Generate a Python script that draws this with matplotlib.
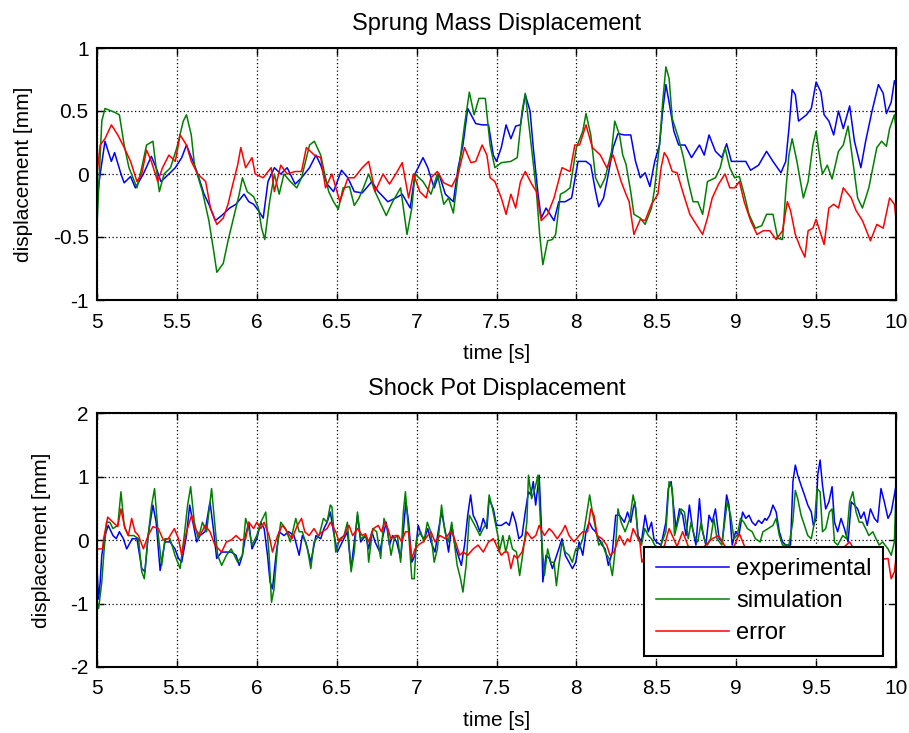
import matplotlib
matplotlib.use("Agg")
import matplotlib.pyplot as plt

plt.rcParams['font.family'] = ['Liberation Sans', 'DejaVu Sans']
plt.rcParams['axes.unicode_minus'] = False

# ---------------- Sprung Mass Displacement ----------------
t_sm_exp = [5.00, 5.02, 5.05, 5.09, 5.11, 5.15, 5.17, 5.21, 5.24, 5.29, 5.34, 5.37, 5.40, 5.45, 5.49, 5.53,
            5.56, 5.61, 5.63, 5.67, 5.70, 5.74, 5.78, 5.83, 5.87, 5.92, 5.95, 5.98, 6.01, 6.04, 6.07, 6.11,
            6.15, 6.19, 6.24, 6.28, 6.33, 6.37, 6.40, 6.44, 6.48, 6.53, 6.57, 6.61, 6.66, 6.72, 6.76, 6.82,
            6.87, 6.91, 6.96, 6.99, 7.04, 7.07, 7.11, 7.14, 7.18, 7.23, 7.26, 7.29, 7.32, 7.37, 7.41, 7.45,
            7.48, 7.50, 7.53, 7.56, 7.59, 7.62, 7.65, 7.68, 7.71, 7.73, 7.76, 7.78, 7.81, 7.86, 7.89, 7.93,
            7.97, 8.01, 8.06, 8.09, 8.12, 8.14, 8.17, 8.20, 8.23, 8.26, 8.30, 8.34, 8.37, 8.40, 8.43, 8.46,
            8.49, 8.52, 8.54, 8.56, 8.58, 8.61, 8.64, 8.68, 8.72, 8.77, 8.80, 8.83, 8.87, 8.91, 8.94, 8.97,
            9.01, 9.06, 9.09, 9.14, 9.19, 9.23, 9.28, 9.31, 9.33, 9.35, 9.37, 9.39, 9.44, 9.47, 9.50, 9.53,
            9.55, 9.58, 9.61, 9.64, 9.67, 9.71, 9.74, 9.78, 9.81, 9.85, 9.89, 9.92, 9.94, 9.97, 9.99, 10.00]
y_sm_exp = [-0.20, 0.00, 0.26, 0.10, 0.17, 0.00, -0.07, -0.02, -0.11, 0.00, 0.14, 0.05, -0.06, 0.00, 0.05, 0.13,
            0.23, 0.07, 0.00, -0.16, -0.24, -0.37, -0.33, -0.27, -0.24, -0.16, -0.22, -0.24, -0.29, -0.35, -0.06, 0.05,
            0.00, 0.05, -0.08, -0.03, 0.05, 0.15, 0.07, -0.08, -0.14, 0.03, -0.03, -0.14, -0.15, -0.06, -0.14, -0.22,
            -0.19, -0.16, -0.27, 0.00, 0.13, 0.05, -0.11, 0.00, -0.16, -0.22, 0.05, 0.23, 0.52, 0.40, 0.39, 0.39,
            0.15, 0.10, 0.21, 0.39, 0.28, 0.38, 0.39, 0.63, 0.50, 0.21, -0.16, -0.35, -0.27, -0.37, -0.22, -0.22,
            -0.19, 0.10, 0.10, 0.07, -0.14, -0.26, -0.19, 0.00, 0.21, 0.32, 0.31, 0.31, 0.10, -0.03, 0.01, -0.10,
            0.10, 0.23, 0.50, 0.71, 0.57, 0.34, 0.23, 0.23, 0.13, 0.23, 0.15, 0.31, 0.18, 0.13, 0.24, 0.10,
            0.10, 0.10, 0.03, 0.07, 0.18, 0.10, 0.01, 0.10, 0.36, 0.67, 0.63, 0.42, 0.47, 0.52, 0.73, 0.65,
            0.47, 0.42, 0.31, 0.50, 0.36, 0.54, 0.26, 0.05, 0.26, 0.50, 0.71, 0.64, 0.48, 0.57, 0.74, 0.71]

t_sm_sim = [5.00, 5.03, 5.05, 5.11, 5.14, 5.17, 5.20, 5.25, 5.28, 5.31, 5.35, 5.37, 5.39, 5.42, 5.46, 5.50,
            5.54, 5.56, 5.59, 5.61, 5.66, 5.70, 5.73, 5.75, 5.79, 5.82, 5.85, 5.89, 5.91, 5.94, 5.98, 6.01,
            6.03, 6.05, 6.08, 6.11, 6.14, 6.17, 6.21, 6.25, 6.28, 6.33, 6.36, 6.40, 6.43, 6.45, 6.48, 6.51,
            6.54, 6.58, 6.61, 6.64, 6.67, 6.70, 6.74, 6.81, 6.85, 6.90, 6.94, 6.97, 6.99, 7.04, 7.09, 7.13,
            7.17, 7.20, 7.23, 7.26, 7.30, 7.33, 7.36, 7.39, 7.43, 7.46, 7.49, 7.53, 7.59, 7.63, 7.66, 7.68,
            7.71, 7.75, 7.77, 7.79, 7.82, 7.85, 7.87, 7.90, 7.93, 7.96, 8.00, 8.04, 8.06, 8.09, 8.12, 8.15,
            8.18, 8.22, 8.24, 8.27, 8.29, 8.31, 8.34, 8.36, 8.40, 8.43, 8.47, 8.49, 8.52, 8.54, 8.56, 8.58,
            8.60, 8.64, 8.67, 8.70, 8.73, 8.76, 8.79, 8.82, 8.87, 8.90, 8.93, 8.96, 8.99, 9.02, 9.05, 9.08,
            9.12, 9.16, 9.19, 9.23, 9.26, 9.29, 9.31, 9.33, 9.35, 9.38, 9.42, 9.45, 9.48, 9.50, 9.53, 9.54,
            9.57, 9.60, 9.64, 9.67, 9.70, 9.73, 9.76, 9.79, 9.83, 9.88, 9.91, 9.94, 9.96, 9.99, 10.00]
y_sm_sim = [-0.41, 0.42, 0.52, 0.49, 0.47, 0.23, 0.05, -0.11, 0.05, 0.23, 0.26, 0.05, -0.14, 0.00, 0.05, 0.21,
            0.42, 0.47, 0.31, 0.07, -0.14, -0.37, -0.61, -0.78, -0.71, -0.53, -0.37, -0.16, -0.03, -0.14, -0.18, -0.27,
            -0.43, -0.52, -0.22, 0.00, -0.16, 0.00, -0.06, -0.11, -0.03, 0.23, 0.26, 0.15, -0.03, -0.14, -0.22, -0.28,
            -0.11, -0.10, -0.25, -0.19, -0.10, 0.00, -0.14, -0.33, -0.22, -0.11, -0.48, -0.27, 0.00, -0.06, -0.16, 0.00,
            -0.24, -0.19, -0.31, 0.00, 0.39, 0.65, 0.47, 0.60, 0.60, 0.23, 0.05, 0.09, 0.10, 0.13, 0.50, 0.64,
            0.31, -0.14, -0.48, -0.72, -0.53, -0.52, -0.48, -0.16, -0.14, -0.11, 0.21, 0.34, 0.48, 0.31, -0.03, -0.11,
            -0.03, 0.18, 0.42, 0.31, 0.15, 0.08, -0.14, -0.32, -0.35, -0.40, -0.27, -0.11, 0.23, 0.57, 0.85, 0.76,
            0.44, 0.28, 0.13, -0.06, -0.22, -0.22, -0.32, -0.06, -0.03, 0.05, 0.21, 0.05, -0.03, -0.02, -0.16, -0.32,
            -0.43, -0.41, -0.32, -0.32, -0.51, -0.52, -0.14, 0.15, 0.28, 0.10, -0.19, -0.06, 0.23, 0.34, 0.07, 0.00,
            0.07, -0.04, 0.18, 0.23, 0.38, 0.10, -0.19, -0.27, -0.11, 0.21, 0.26, 0.22, 0.36, 0.47, 0.36]

t_sm_err = [5.00, 5.02, 5.05, 5.09, 5.13, 5.17, 5.21, 5.25, 5.28, 5.31, 5.34, 5.38, 5.41, 5.45, 5.49, 5.52,
            5.56, 5.59, 5.63, 5.68, 5.71, 5.75, 5.79, 5.82, 5.85, 5.88, 5.90, 5.93, 5.97, 5.99, 6.04, 6.09,
            6.11, 6.15, 6.19, 6.24, 6.28, 6.31, 6.36, 6.40, 6.43, 6.47, 6.52, 6.57, 6.61, 6.66, 6.70, 6.74,
            6.79, 6.83, 6.87, 6.91, 6.95, 6.98, 7.02, 7.06, 7.09, 7.13, 7.17, 7.22, 7.26, 7.30, 7.34, 7.37,
            7.41, 7.44, 7.46, 7.49, 7.53, 7.56, 7.59, 7.62, 7.65, 7.68, 7.72, 7.75, 7.78, 7.82, 7.86, 7.91,
            7.96, 7.99, 8.02, 8.06, 8.10, 8.15, 8.19, 8.23, 8.28, 8.31, 8.33, 8.36, 8.40, 8.43, 8.47, 8.51,
            8.53, 8.55, 8.57, 8.60, 8.63, 8.67, 8.71, 8.75, 8.79, 8.82, 8.85, 8.89, 8.93, 8.96, 8.99, 9.02,
            9.05, 9.09, 9.13, 9.17, 9.21, 9.25, 9.29, 9.32, 9.34, 9.37, 9.40, 9.43, 9.45, 9.48, 9.50, 9.53,
            9.55, 9.58, 9.61, 9.64, 9.67, 9.72, 9.75, 9.79, 9.84, 9.88, 9.92, 9.96, 9.99, 10.00]
y_sm_err = [0.00, 0.23, 0.28, 0.39, 0.31, 0.21, 0.10, -0.06, 0.00, 0.19, 0.10, -0.06, 0.05, 0.15, 0.10, 0.31,
            0.23, 0.10, 0.00, -0.06, -0.27, -0.40, -0.35, -0.24, -0.08, 0.07, 0.21, 0.05, 0.13, 0.00, -0.03, 0.05,
            -0.14, 0.07, 0.00, 0.02, 0.02, 0.21, 0.15, 0.13, -0.11, 0.00, -0.22, -0.03, -0.03, 0.05, 0.10, -0.14,
            0.00, -0.08, 0.00, 0.09, -0.19, 0.00, -0.14, -0.19, -0.03, 0.02, -0.07, -0.10, 0.00, 0.21, 0.09, 0.10,
            0.23, 0.15, -0.03, -0.06, -0.19, -0.32, -0.16, -0.27, -0.06, 0.02, -0.08, -0.14, -0.37, -0.32, -0.19, 0.05,
            0.02, 0.23, 0.23, 0.39, 0.21, 0.15, 0.05, 0.15, -0.06, -0.16, -0.22, -0.48, -0.36, -0.37, -0.24, -0.16,
            0.05, 0.17, 0.13, 0.02, 0.01, -0.16, -0.32, -0.40, -0.48, -0.35, -0.19, -0.08, 0.00, -0.11, -0.11, -0.06,
            -0.22, -0.37, -0.48, -0.45, -0.45, -0.52, -0.45, -0.22, -0.29, -0.48, -0.58, -0.66, -0.45, -0.43, -0.36, -0.48,
            -0.56, -0.27, -0.24, -0.27, -0.11, -0.19, -0.29, -0.37, -0.53, -0.40, -0.43, -0.19, -0.24, -0.35]

# ---------------- Shock Pot Displacement ----------------
t_sp_exp = [5.00, 5.01, 5.02, 5.03, 5.05, 5.07, 5.10, 5.12, 5.14, 5.165, 5.186, 5.22, 5.25, 5.28, 5.30, 5.32,
            5.35, 5.37, 5.395, 5.425, 5.457, 5.488, 5.51, 5.53, 5.56, 5.58, 5.60, 5.624, 5.645, 5.676, 5.707, 5.728,
            5.749, 5.78, 5.81, 5.84, 5.87, 5.89, 5.91, 5.93, 5.95, 5.97, 6.00, 6.025, 6.046, 6.067, 6.083, 6.098,
            6.12, 6.14, 6.17, 6.20, 6.233, 6.265, 6.285, 6.306, 6.338, 6.37, 6.40, 6.42, 6.44, 6.46, 6.48, 6.504,
            6.535, 6.567, 6.59, 6.61, 6.63, 6.65, 6.68, 6.70, 6.72, 6.74, 6.77, 6.79, 6.81, 6.83, 6.85, 6.875,
            6.90, 6.92, 6.933, 6.95, 6.97, 6.99, 7.01, 7.03, 7.05, 7.07, 7.09, 7.115, 7.135, 7.156, 7.18, 7.20,
            7.22, 7.24, 7.26, 7.28, 7.30, 7.32, 7.338, 7.354, 7.375, 7.396, 7.417, 7.44, 7.454, 7.48, 7.50, 7.53,
            7.56, 7.58, 7.60, 7.62, 7.64, 7.66, 7.68, 7.70, 7.715, 7.73, 7.745, 7.767, 7.78, 7.79, 7.81, 7.83,
            7.85, 7.87, 7.89, 7.91, 7.93, 7.954, 7.975, 7.996, 8.017, 8.04, 8.06, 8.08, 8.10, 8.12, 8.14, 8.16,
            8.18, 8.20, 8.225, 8.246, 8.27, 8.30, 8.32, 8.34, 8.355, 8.366, 8.386, 8.407, 8.43, 8.45, 8.47, 8.485,
            8.50, 8.53, 8.56, 8.575, 8.593, 8.607, 8.624, 8.645, 8.665, 8.686, 8.707, 8.727, 8.748, 8.77, 8.785, 8.81,
            8.83, 8.85, 8.87, 8.893, 8.913, 8.94, 8.955, 8.975, 8.996, 9.017, 9.04, 9.06, 9.08, 9.10, 9.12, 9.14,
            9.16, 9.18, 9.19, 9.21, 9.23, 9.25, 9.27, 9.29, 9.31, 9.34, 9.355, 9.37, 9.385, 9.406, 9.427, 9.448,
            9.47, 9.483, 9.50, 9.51, 9.525, 9.54, 9.56, 9.58, 9.60, 9.615, 9.635, 9.656, 9.677, 9.70, 9.72, 9.74,
            9.76, 9.78, 9.80, 9.82, 9.84, 9.865, 9.885, 9.906, 9.927, 9.95, 9.97, 9.99, 10.00]
y_sp_exp = [-0.45, -0.93, -0.66, -0.24, 0.07, 0.23, 0.07, 0.02, 0.13, 0.02, -0.14, 0.02, 0.02, -0.45, -0.50, 0.07,
            0.55, 0.28, -0.48, -0.03, -0.03, -0.14, -0.29, -0.35, 0.07, 0.55, 0.28, -0.03, 0.07, 0.13, 0.60, 0.18,
            -0.29, -0.19, -0.19, -0.19, -0.24, -0.40, -0.24, 0.07, 0.28, -0.14, 0.02, 0.28, 0.18, -0.24, -0.66, -0.77,
            -0.24, 0.13, 0.07, 0.13, 0.07, -0.24, 0.07, -0.03, -0.35, 0.07, 0.02, 0.18, 0.28, 0.44, 0.13, -0.19,
            -0.03, 0.13, -0.45, -0.03, 0.39, -0.03, 0.07, -0.14, 0.13, -0.03, -0.19, 0.07, 0.28, -0.08, 0.07, -0.03,
            -0.29, 0.23, 0.60, 0.28, -0.35, -0.24, 0.23, 0.07, 0.02, 0.18, -0.03, -0.19, 0.13, 0.44, 0.13, -0.19,
            0.23, -0.08, -0.24, -0.40, -0.08, 0.39, 0.71, 0.39, 0.28, 0.13, 0.34, 0.18, 0.65, 0.49, 0.23, 0.23,
            0.28, 0.23, 0.44, 0.28, 0.02, 0.07, 0.44, 0.76, 0.71, 0.92, 0.55, 1.02, 0.28, -0.66, -0.24, -0.29,
            -0.45, -0.29, -0.14, 0.02, -0.24, -0.35, -0.45, -0.35, -0.03, -0.24, 0.13, 0.28, 0.18, 0.13, 0.02, -0.08,
            -0.14, -0.40, -0.19, 0.39, 0.39, 0.28, 0.44, 0.28, 0.49, 0.60, 0.07, -0.03, 0.39, 0.13, 0.28, 0.02,
            -0.03, -0.08, 0.28, 0.81, 0.92, 0.55, 0.18, 0.49, 0.39, 0.07, 0.55, 0.18, -0.08, 0.65, 0.18, -0.08,
            0.39, 0.28, 0.49, 0.02, -0.03, 0.71, 0.55, -0.08, 0.13, 0.07, 0.44, 0.34, 0.39, 0.28, 0.23, 0.31,
            0.26, 0.34, 0.31, 0.39, 0.55, 0.44, 0.13, -0.03, -0.08, -0.08, 0.92, 1.18, 1.02, 0.86, 0.71, 0.55,
            0.44, 0.23, 0.34, 1.02, 1.26, 0.86, 0.49, 0.60, 0.84, 0.28, 0.13, 0.34, 0.18, -0.03, 0.60, 0.55,
            0.49, 0.34, 0.44, 0.23, 0.49, 0.34, 0.28, 0.81, 0.60, 0.34, 0.44, 0.71, 0.86]

t_sp_sim = [5.00, 5.01, 5.03, 5.045, 5.06, 5.08, 5.10, 5.13, 5.15, 5.17, 5.196, 5.23, 5.26, 5.28, 5.296, 5.32,
            5.342, 5.36, 5.384, 5.405, 5.425, 5.457, 5.488, 5.52, 5.546, 5.567, 5.586, 5.609, 5.634, 5.66, 5.686, 5.717,
            5.734, 5.755, 5.78, 5.81, 5.84, 5.88, 5.91, 5.93, 5.95, 5.97, 6.00, 6.025, 6.056, 6.077, 6.092, 6.108,
            6.13, 6.15, 6.18, 6.21, 6.244, 6.265, 6.285, 6.317, 6.338, 6.358, 6.39, 6.417, 6.44, 6.46, 6.47, 6.494,
            6.52, 6.546, 6.567, 6.59, 6.61, 6.63, 6.65, 6.68, 6.69, 6.70, 6.725, 6.75, 6.775, 6.796, 6.817, 6.84,
            6.86, 6.88, 6.90, 6.917, 6.93, 6.95, 6.97, 6.985, 7.00, 7.025, 7.046, 7.067, 7.088, 7.11, 7.13, 7.156,
            7.177, 7.198, 7.22, 7.233, 7.254, 7.275, 7.29, 7.31, 7.33, 7.354, 7.375, 7.396, 7.417, 7.44, 7.454, 7.475,
            7.496, 7.51, 7.517, 7.54, 7.558, 7.58, 7.60, 7.625, 7.645, 7.666, 7.69, 7.70, 7.72, 7.74, 7.76, 7.775,
            7.80, 7.82, 7.84, 7.86, 7.875, 7.89, 7.91, 7.93, 7.954, 7.975, 7.996, 8.017, 8.04, 8.06, 8.083, 8.10,
            8.12, 8.14, 8.16, 8.18, 8.204, 8.225, 8.246, 8.26, 8.28, 8.305, 8.335, 8.355, 8.372, 8.386, 8.407, 8.428,
            8.45, 8.47, 8.49, 8.52, 8.56, 8.58, 8.60, 8.614, 8.635, 8.655, 8.676, 8.70, 8.717, 8.738, 8.76, 8.78,
            8.80, 8.82, 8.84, 8.86, 8.88, 8.91, 8.944, 8.965, 8.986, 9.006, 9.027, 9.048, 9.07, 9.10, 9.12, 9.15,
            9.167, 9.20, 9.23, 9.25, 9.27, 9.29, 9.33, 9.354, 9.37, 9.385, 9.406, 9.427, 9.448, 9.47, 9.49, 9.506,
            9.525, 9.54, 9.56, 9.583, 9.60, 9.615, 9.635, 9.667, 9.69, 9.71, 9.73, 9.75, 9.77, 9.79, 9.81, 9.83,
            9.855, 9.875, 9.895, 9.916, 9.95, 9.97, 9.99, 9.997, 10.00]
y_sp_sim = [-0.98, -1.08, -0.66, -0.14, 0.28, 0.28, 0.18, 0.23, 0.76, 0.23, 0.07, 0.07, 0.02, -0.50, -0.61, 0.07,
            0.55, 0.81, 0.07, -0.40, 0.02, 0.02, -0.24, -0.45, 0.07, 0.55, 0.84, 0.28, 0.02, 0.28, 0.13, 0.81,
            0.34, -0.24, -0.40, -0.24, -0.14, -0.35, -0.24, 0.34, 0.18, -0.08, 0.07, 0.28, 0.44, -0.24, -0.98, -0.77,
            -0.08, 0.28, 0.18, -0.03, 0.34, 0.13, 0.13, -0.14, -0.45, -0.03, 0.07, 0.34, 0.28, 0.55, 0.52, -0.19,
            0.02, 0.07, 0.28, -0.50, -0.19, 0.44, 0.02, 0.07, 0.02, -0.35, 0.18, 0.13, -0.29, 0.34, 0.18, -0.24,
            0.02, 0.07, -0.35, 0.44, 0.76, 0.13, -0.61, -0.61, 0.02, 0.13, -0.03, 0.28, 0.13, -0.35, -0.14, 0.55,
            0.13, -0.03, 0.28, 0.02, -0.40, -0.61, -0.82, -0.40, 0.39, 0.28, 0.18, 0.07, 0.18, 0.28, 0.71, 0.49,
            0.23, 0.05, -0.19, 0.07, -0.19, 0.07, -0.14, -0.19, -0.56, -0.19, 0.28, 1.02, 0.65, 0.81, 1.02, 0.28,
            -0.56, -0.14, -0.35, -0.35, -0.72, -0.40, -0.03, -0.19, -0.24, -0.35, -0.14, -0.14, 0.02, 0.34, 0.71, 0.44,
            0.18, -0.08, -0.03, -0.19, -0.29, -0.56, -0.08, 0.49, 0.28, 0.13, 0.34, 0.71, 0.49, 0.02, -0.08, 0.18,
            0.07, 0.02, -0.08, -0.14, 0.13, 0.92, 0.81, 0.07, 0.28, 0.49, 0.44, 0.02, 0.28, 0.07, -0.03, 0.28,
            0.02, -0.08, 0.02, 0.34, 0.02, -0.08, 0.60, 0.39, 0.02, 0.07, 0.34, 0.28, 0.18, 0.13, 0.02, -0.03,
            0.13, 0.18, 0.23, 0.34, 0.07, -0.08, -0.08, 0.28, 0.78, 0.65, 0.39, 0.23, 0.07, 0.02, 0.28, 0.81,
            0.76, 0.13, 0.18, 0.44, 0.49, -0.03, -0.08, 0.07, 0.02, 0.60, 0.76, 0.44, 0.28, 0.28, 0.18, 0.07,
            0.13, 0.02, -0.08, -0.03, -0.14, -0.24, -0.03, 0.55, 0.60]

t_sp_err = [5.00, 5.035, 5.04, 5.067, 5.10, 5.13, 5.15, 5.175, 5.196, 5.217, 5.238, 5.26, 5.29, 5.32, 5.35, 5.384,
            5.415, 5.446, 5.484, 5.51, 5.53, 5.56, 5.592, 5.613, 5.645, 5.676, 5.707, 5.738, 5.78, 5.81, 5.84, 5.87,
            5.90, 5.93, 5.95, 5.98, 6.00, 6.025, 6.046, 6.077, 6.098, 6.13, 6.16, 6.19, 6.22, 6.254, 6.28, 6.30,
            6.327, 6.358, 6.385, 6.41, 6.44, 6.46, 6.494, 6.515, 6.546, 6.577, 6.60, 6.63, 6.66, 6.68, 6.70, 6.73,
            6.76, 6.78, 6.80, 6.82, 6.84, 6.865, 6.885, 6.906, 6.93, 6.95, 6.97, 6.99, 7.01, 7.04, 7.07, 7.09,
            7.115, 7.146, 7.18, 7.21, 7.23, 7.25, 7.27, 7.29, 7.32, 7.354, 7.385, 7.417, 7.45, 7.48, 7.51, 7.53,
            7.55, 7.57, 7.59, 7.61, 7.63, 7.66, 7.69, 7.72, 7.746, 7.767, 7.80, 7.83, 7.85, 7.88, 7.91, 7.93,
            7.954, 7.985, 8.017, 8.04, 8.07, 8.09, 8.11, 8.13, 8.16, 8.19, 8.21, 8.235, 8.27, 8.30, 8.32, 8.335,
            8.355, 8.376, 8.397, 8.41, 8.44, 8.50, 8.55, 8.58, 8.60, 8.63, 8.665, 8.70, 8.75, 8.80, 8.85, 8.89,
            8.93, 8.97, 9.02, 9.06, 9.12, 9.18, 9.25, 9.32, 9.40, 9.48, 9.55, 9.62, 9.68, 9.71, 9.75, 9.82,
            9.88, 9.93, 9.95, 9.97, 9.99, 10.00]
y_sp_err = [-0.14, -0.14, 0.00, 0.36, 0.28, 0.21, 0.49, 0.18, 0.07, 0.34, 0.13, 0.07, -0.14, 0.07, 0.21, 0.18,
            0.00, 0.02, 0.18, 0.02, -0.24, 0.13, 0.39, 0.18, 0.07, 0.23, 0.13, -0.08, -0.19, -0.03, 0.00, 0.07,
            0.00, 0.02, 0.28, 0.18, 0.28, 0.18, 0.28, 0.07, -0.19, 0.07, 0.23, 0.13, 0.02, 0.23, 0.34, 0.13,
            0.07, 0.18, 0.07, 0.13, 0.18, 0.28, 0.13, -0.03, 0.07, 0.23, 0.07, 0.18, 0.07, 0.10, -0.03, 0.18,
            0.23, 0.13, 0.28, 0.18, 0.02, 0.07, 0.07, -0.03, 0.13, 0.13, -0.29, -0.14, -0.08, -0.03, 0.07, 0.13,
            -0.03, 0.07, 0.02, 0.13, 0.07, -0.08, -0.24, -0.19, -0.24, -0.14, -0.08, -0.19, -0.03, 0.02, -0.14, -0.24,
            -0.19, -0.19, -0.45, -0.24, -0.29, -0.19, 0.13, 0.02, 0.07, 0.23, 0.07, 0.18, 0.13, 0.02, 0.13, 0.23,
            0.07, -0.03, 0.07, 0.13, 0.13, 0.49, 0.39, 0.07, 0.02, -0.08, -0.24, -0.19, 0.07, -0.08, 0.02, -0.03,
            0.18, 0.07, -0.03, -0.35, -0.20, -0.15, -0.10, 0.18, 0.07, -0.10, 0.13, -0.10, -0.20, -0.10, 0.02, 0.07,
            -0.10, -0.20, 0.10, -0.15, -0.25, -0.20, -0.30, -0.20, -0.30, -0.25, -0.35, -0.20, -0.10, -0.03, -0.20, -0.30,
            -0.25, -0.30, -0.29, -0.61, -0.50, -0.28]

series_labels = ['experimental', 'simulation', 'error']
series_colors = ['#0000FF', '#008000', '#FF0000']

x_ticks = [5, 5.5, 6, 6.5, 7, 7.5, 8, 8.5, 9, 9.5, 10]
x_ticklabels = ['5', '5.5', '6', '6.5', '7', '7.5', '8', '8.5', '9', '9.5', '10']
y_ticks_top = [-1, -0.5, 0, 0.5, 1]
y_ticklabels_top = ['-1', '-0.5', '0', '0.5', '1']
y_ticks_bot = [-2, -1, 0, 1, 2]
y_ticklabels_bot = ['-2', '-1', '0', '1', '2']

FS = 15
FS_TITLE = 17
W, H = 909, 733
fig = plt.figure(figsize=(W / 100, H / 100), dpi=100)
ax1 = fig.add_axes([97 / W, 1 - 300 / H, 799 / W, 252 / H])
ax2 = fig.add_axes([97 / W, 1 - 667 / H, 799 / W, 254 / H])


def style(ax, yt, ytl, ylim, title):
    ax.set_xlim(5, 10)
    ax.set_ylim(*ylim)
    ax.set_xticks(x_ticks)
    ax.set_xticklabels(x_ticklabels, fontsize=FS)
    ax.set_yticks(yt)
    ax.set_yticklabels(ytl, fontsize=FS)
    ax.grid(True, color='black', linestyle=(0, (1, 2)), linewidth=0.9)
    ax.tick_params(direction='in', top=True, right=True, length=5, width=1)
    ax.tick_params(axis='x', pad=9)
    ax.tick_params(axis='y', pad=6)
    for s in ax.spines.values():
        s.set_linewidth(1.5)
    ax.set_xlabel('time [s]', fontsize=FS, labelpad=9)
    ax.set_ylabel('displacement [mm]', fontsize=FS, labelpad=14)
    ax.set_title(title, fontsize=FS_TITLE, pad=13)


for t, y, c, lab in zip([t_sm_exp, t_sm_sim, t_sm_err], [y_sm_exp, y_sm_sim, y_sm_err],
                        series_colors, series_labels):
    ax1.plot(t, y, color=c, linewidth=1.1, label=lab)
style(ax1, y_ticks_top, y_ticklabels_top, (-1, 1), 'Sprung Mass Displacement')

for t, y, c, lab in zip([t_sp_exp, t_sp_sim, t_sp_err], [y_sp_exp, y_sp_sim, y_sp_err],
                        series_colors, series_labels):
    ax2.plot(t, y, color=c, linewidth=1.1, label=lab)
style(ax2, y_ticks_bot, y_ticklabels_bot, (-2, 2), 'Shock Pot Displacement')

leg = ax2.legend(loc='lower right', bbox_to_anchor=(0.984, 0.043), fontsize=17, frameon=True,
                 fancybox=False, framealpha=1, edgecolor='black', handlelength=3.1,
                 handletextpad=0.3, labelspacing=0.42, borderpad=0.5, borderaxespad=0)
leg.get_frame().set_linewidth(1.5)
leg.set_zorder(10)

fig.savefig('out.png', dpi=100)
